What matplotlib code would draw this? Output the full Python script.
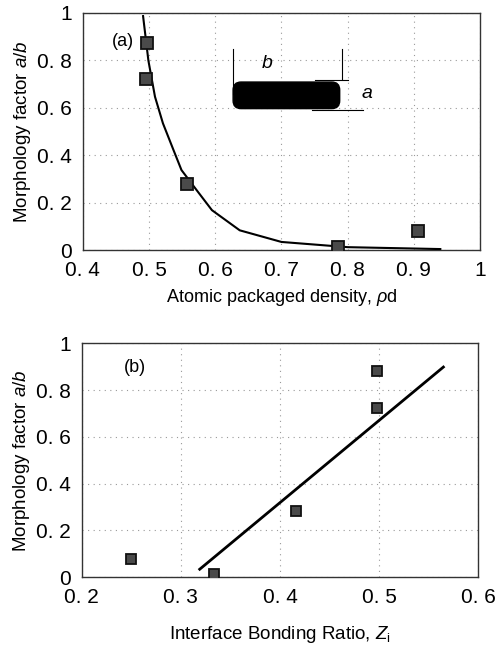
import matplotlib
matplotlib.use("Agg")
import matplotlib.pyplot as plt
from matplotlib.patches import FancyBboxPatch

# ---- data ----
# panel (a)
pd_points = [0.497, 0.495, 0.557, 0.786, 0.906]
ab_points_a = [0.875, 0.72, 0.28, 0.015, 0.08]
curve_x = [0.491, 0.499, 0.509, 0.521, 0.537, 0.549, 0.572, 0.595, 0.637, 0.70, 0.80, 0.94]
curve_y = [0.987, 0.80, 0.647, 0.535, 0.422, 0.338, 0.253, 0.169, 0.084, 0.035, 0.013, 0.005]
# panel (b)
zi_points = [0.250, 0.333, 0.416, 0.498, 0.498]
ab_points_b = [0.077, 0.014, 0.284, 0.724, 0.88]
fit_x = [0.319, 0.565]
fit_y = [0.034, 0.898]

xticks_a = [0.4, 0.5, 0.6, 0.7, 0.8, 0.9, 1.0]
xticklabels_a = ["0. 4", "0. 5", "0. 6", "0. 7", "0. 8", "0. 9", "1"]
xticks_b = [0.2, 0.3, 0.4, 0.5, 0.6]
xticklabels_b = ["0. 2", "0. 3", "0. 4", "0. 5", "0. 6"]
yticks = [0, 0.2, 0.4, 0.6, 0.8, 1.0]
yticklabels = ["0", "0. 2", "0. 4", "0. 6", "0. 8", "1"]

plt.rcParams['font.family'] = ['Liberation Sans', 'DejaVu Sans']
plt.rcParams['mathtext.fontset'] = 'custom'
plt.rcParams['mathtext.it'] = 'Liberation Sans:italic'
plt.rcParams['mathtext.rm'] = 'Liberation Sans'

fig = plt.figure(figsize=(4.99, 6.5), dpi=100)
ax1 = fig.add_axes([0.166, 0.615, 0.796, 0.365])
ax2 = fig.add_axes([0.164, 0.112, 0.794, 0.360])

def style(ax, xt, xtl, xlim):
    ax.set_xlim(*xlim)
    ax.set_ylim(0, 1)
    ax.set_xticks(xt)
    ax.set_xticklabels(xtl, fontsize=15)
    ax.set_yticks(yticks)
    ax.set_yticklabels(yticklabels, fontsize=15)
    ax.tick_params(direction='in', length=0, pad=8)
    ax.grid(True, linestyle=(0, (1, 4)), color='#999999', linewidth=0.8)
    for s in ax.spines.values():
        s.set_linewidth(1.0)
        s.set_color('#333333')
    ax.set_ylabel("Morphology factor $\\it{a/b}$", fontsize=13.5, labelpad=3)

marker_kw = dict(marker='s', linestyle='none', markerfacecolor='#4a4a4a',
                 markeredgecolor='#111111', markeredgewidth=1.3, zorder=4)

# panel (a)
style(ax1, xticks_a, xticklabels_a, (0.4, 1.0))
ax1.plot(curve_x, curve_y, color='black', linewidth=1.5, zorder=3)
ax1.plot(pd_points, ab_points_a, markersize=8.5, **marker_kw)
ax1.set_xlabel("Atomic packaged density, $\\rho$d", fontsize=13, labelpad=5)
ax1.text(0.461, 0.878, "(a)", fontsize=13, ha='center', va='center')

# inset shape
box = FancyBboxPatch((0.627, 0.597), 0.161, 0.112,
                     boxstyle="round,pad=0,rounding_size=0.012",
                     mutation_aspect=2.8, facecolor='black',
                     edgecolor='black', zorder=5)
ax1.add_patch(box)
ax1.plot([0.627, 0.627], [0.66, 0.85], color='black', linewidth=0.8, zorder=5)
ax1.plot([0.791, 0.791], [0.72, 0.85], color='black', linewidth=0.8, zorder=5)
ax1.plot([0.751, 0.801], [0.719, 0.719], color='black', linewidth=0.8, zorder=5)
ax1.plot([0.746, 0.823], [0.593, 0.593], color='black', linewidth=0.8, zorder=5)
ax1.text(0.678, 0.787, "b", fontsize=14, style='italic', ha='center', va='center')
ax1.text(0.829, 0.66, "a", fontsize=14, style='italic', ha='center', va='center')

# panel (b)
style(ax2, xticks_b, xticklabels_b, (0.2, 0.6))
ax2.plot(fit_x, fit_y, color='black', linewidth=2.0, zorder=3)
ax2.plot(zi_points, ab_points_b, markersize=7.5, **marker_kw)
ax2.set_xlabel("Interface Bonding Ratio, $\\it{Z}_\\mathrm{i}$", fontsize=13.5, labelpad=12)
ax2.text(0.2535, 0.898, "(b)", fontsize=13, ha='center', va='center')

fig.savefig("out.png", dpi=100)
